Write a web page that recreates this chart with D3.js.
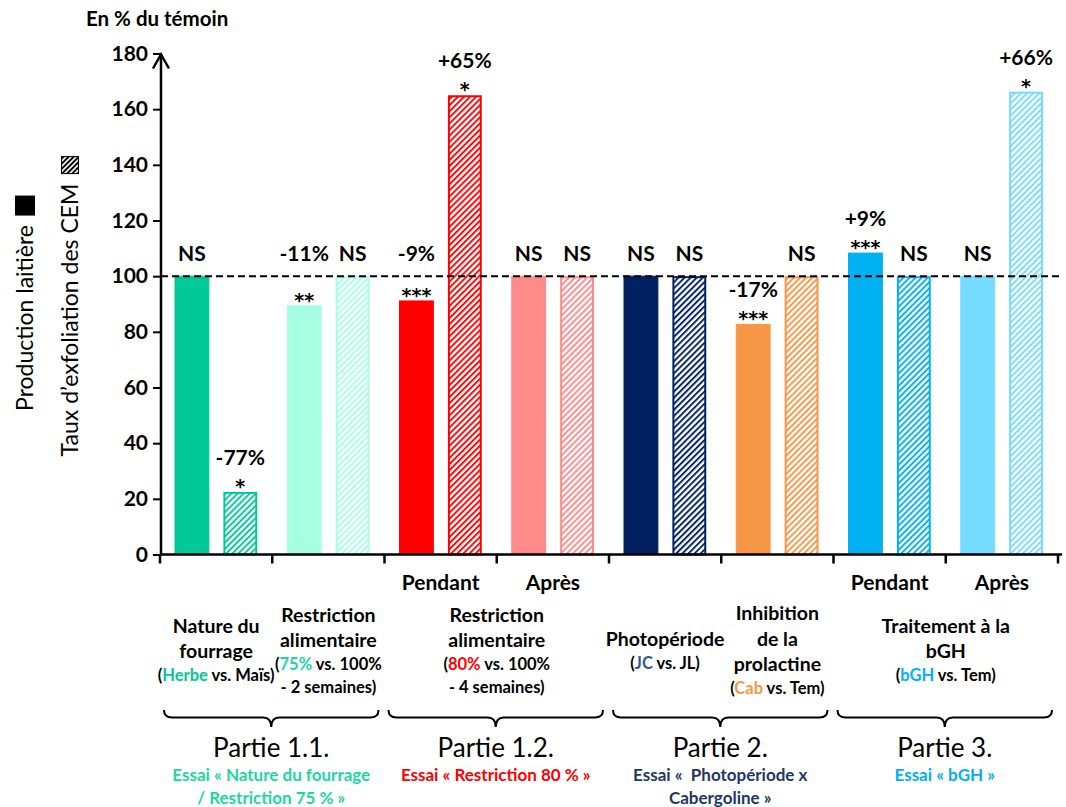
<!DOCTYPE html>
<html><head><meta charset="utf-8">
<script src="https://cdn.jsdelivr.net/npm/d3@7"></script>
<style>body{margin:0;background:#fff} svg{display:block} text{font-family:Lato,'Open Sans',sans-serif}</style>
</head><body><svg id="c" width="1066" height="807"></svg>
<script>
// ---------- data ----------
const categories = ["Nature du fourrage","Restriction 75 %","Restriction 80 % (pendant)","Restriction 80 % (après)","Photopériode","Inhibition prolactine","bGH (pendant)","bGH (après)"];
const tickLabels = ["","","Pendant","Après","","","Pendant","Après"];
const productionValues  = [100, 89.4, 91.1, 100, 100, 82.7, 108.3, 100];
const exfoliationValues = [22.5, 100, 165, 100, 100, 100, 100, 166.3];
const productionEffect  = ["NS","-11%","-9%","NS","NS","-17%","+9%","NS"];
const productionStars   = ["","**","***","","","***","***",""];
const exfoliationEffect = ["-77%","NS","+65%","NS","NS","NS","NS","+66%"];
const exfoliationStars  = ["*","","*","","","","","*"];
const barColors = ["#00C896","#A6FFE1","#FF0000","#FF8A8A","#002060","#F79646","#00B0F0","#75DBFF"];
const yTicks = [0,20,40,60,80,100,120,140,160,180];
const referenceLevel = 100;
const yTitle1 = "Production laitière";
const yTitle2 = "Taux d’exfoliation des CEM";
const unitTitle = "En % du témoin";
const descriptions = [
  {from:0,to:0,lines:[[["Nature du"]],[["fourrage"]],[["("],["Herbe","#00C896"],[" vs. Maïs)"]]]},
  {from:1,to:1,lines:[[["Restriction"]],[["alimentaire"]],[["("],["75%","#1ED5A4"],[" vs. 100%"]],[["- 2 semaines)"]]]},
  {from:2,to:3,lines:[[["Restriction"]],[["alimentaire"]],[["("],["80%","#FF0000"],[" vs. 100%"]],[["- 4 semaines)"]]]},
  {from:4,to:4,lines:[[["Photopériode"]],[["("],["JC","#2F5597"],[" vs. JL)"]]]},
  {from:5,to:5,lines:[[["Inhibition"]],[["de la"]],[["prolactine"]],[["("],["Cab","#F79646"],[" vs. Tem)"]]]},
  {from:6,to:7,lines:[[["Traitement à la"]],[["bGH"]],[["("],["bGH","#00B0F0"],[" vs. Tem)"]]]}
];
const groups = [[0,1],[2,3],[4,5],[6,7]];
const partTitles = ["Partie 1.1.","Partie 1.2.","Partie 2.","Partie 3."];
const essaiLines = [["Essai « Nature du fourrage","/ Restriction 75 % »"],["Essai « Restriction 80 % »"],["Essai «  Photopériode x","Cabergoline »"],["Essai « bGH »"]];
const essaiColors = ["#1ED5A4","#FF0000","#203864","#00B0F0"];

// ---------- layout ----------
const svg = d3.select("#c");
const X0 = 160, X1 = 1058, YB = 554.5, YT = 53.5;
const x = d3.scaleBand().domain(d3.range(categories.length)).range([X0, X1]).padding(0);
const inner = d3.scaleBand().domain(["prod","cem"]).range([15, x.bandwidth()-15]).paddingInner(0.3).paddingOuter(0);
const y = d3.scaleLinear().domain([0,180]).range([YB, YT]);

// hatch patterns
const defs = svg.append("defs");
function hatch(id, color, w){
  const p = defs.append("pattern").attr("id", id).attr("patternUnits","userSpaceOnUse")
    .attr("width", w).attr("height", w).attr("patternTransform","rotate(45)");
  p.append("rect").attr("width", w).attr("height", w).attr("fill","#fff");
  p.append("line").attr("x1",1).attr("y1",0).attr("x2",1).attr("y2",w).attr("stroke",color).attr("stroke-width",1.9);
}
barColors.forEach((c,i)=>hatch("h"+i, c, 4.3));
hatch("hleg", "#000", 3.6);

// bars
const g = svg.append("g");
g.selectAll("rect.prod").data(productionValues).join("rect").attr("class","prod")
  .attr("x",(d,i)=>x(i)+inner("prod")).attr("width",inner.bandwidth())
  .attr("y",d=>y(d)).attr("height",d=>y(0)-y(d))
  .attr("fill",(d,i)=>barColors[i]).attr("stroke",(d,i)=>barColors[i]).attr("stroke-width",1);
g.selectAll("rect.cem").data(exfoliationValues).join("rect").attr("class","cem")
  .attr("x",(d,i)=>x(i)+inner("cem")+1).attr("width",inner.bandwidth()-2)
  .attr("y",d=>y(d)+1).attr("height",d=>y(0)-y(d)-1)
  .attr("fill",(d,i)=>"url(#h"+i+")").attr("stroke",(d,i)=>barColors[i]).attr("stroke-width",2);

// reference dashed line
svg.append("line").attr("x1",X0+1).attr("x2",1062).attr("y1",y(referenceLevel)).attr("y2",y(referenceLevel))
  .attr("stroke","#000").attr("stroke-width",2).attr("stroke-dasharray","7,4");

// annotations
function annotate(values, effects, stars, key){
  values.forEach((v,i)=>{
    const cx = x(i)+inner(key)+inner.bandwidth()/2;
    const top = y(v);
    let pctY;
    if (stars[i]) {
      svg.append("text").attr("x",cx).attr("y",top+1).attr("text-anchor","middle")
        .style("font-family","'DejaVu Sans',sans-serif").attr("font-size",19).attr("font-weight",700).text(stars[i]);
      pctY = top - 27;
      if (v < referenceLevel && pctY - 14 < y(referenceLevel) + 4) pctY = y(referenceLevel) - 15;
    } else {
      pctY = Math.min(top, y(referenceLevel)) - 15;
    }
    svg.append("text").attr("x",cx).attr("y",pctY).attr("text-anchor","middle")
      .attr("font-size",21).attr("font-weight",700).text(effects[i]);
  });
}
annotate(productionValues, productionEffect, productionStars, "prod");
annotate(exfoliationValues, exfoliationEffect, exfoliationStars, "cem");

// y axis
const yAxis = svg.append("g").attr("transform",`translate(${X0+1},0)`)
  .call(d3.axisLeft(y).tickValues(yTicks).tickSize(8).tickPadding(5));
yAxis.select(".domain").remove();
yAxis.selectAll(".tick line").attr("stroke","#000").attr("stroke-width",2);
yAxis.selectAll(".tick text").attr("font-size",21).attr("font-weight",700).attr("fill","#000")
  .style("font-family","Lato,sans-serif");
svg.append("line").attr("x1",X0+1).attr("x2",X0+1).attr("y1",YB+1).attr("y2",YT+1).attr("stroke","#000").attr("stroke-width",2.5);
svg.append("path").attr("d",`M${X0-7},${YT+15} L${X0+1},${YT+1} L${X0+9},${YT+15}`)
  .attr("fill","none").attr("stroke","#000").attr("stroke-width",2.5);

// x axis
svg.append("line").attr("x1",X0).attr("x2",1062).attr("y1",YB).attr("y2",YB).attr("stroke","#000").attr("stroke-width",2.5);
const xAxis = svg.append("g").attr("transform",`translate(0,${YB})`)
  .call(d3.axisBottom(x).tickFormat((d,i)=>tickLabels[i]).tickSize(0).tickPadding(21));
xAxis.select(".domain").remove();
xAxis.selectAll(".tick text").attr("font-size",21).attr("font-weight",700).attr("fill","#000")
  .style("font-family","Lato,sans-serif");
// category separators
svg.selectAll("line.sep").data(d3.range(categories.length+1)).join("line").attr("class","sep")
  .attr("x1",i=>X0+i*x.step()).attr("x2",i=>X0+i*x.step()).attr("y1",YB).attr("y2",YB+9)
  .attr("stroke","#000").attr("stroke-width",2.5);

// unit title
svg.append("text").attr("x",86).attr("y",26).attr("font-size",20.5).attr("font-weight",700).text(unitTitle);

// y titles
function yTitle(cx, cy, label, legendFill, sq){
  const t = svg.append("text").attr("transform",`translate(${cx},${cy}) rotate(-90)`)
    .attr("text-anchor","middle").attr("dy","0.35em").attr("font-size",23).text(label);
  const len = t.node().getComputedTextLength();
  svg.append("rect").attr("x",cx-sq/2).attr("y",cy-len/2-10-sq).attr("width",sq).attr("height",sq)
    .attr("fill",legendFill).attr("stroke","#000").attr("stroke-width",1);
}
yTitle(25, 318, yTitle1, "#000", 19);
yTitle(70, 320, yTitle2, "url(#hleg)", 17);

// descriptions
descriptions.forEach(dsc=>{
  const cx = (x(dsc.from) + x(dsc.to) + x.bandwidth())/2;
  const isSub = l => /^[(\-]/.test(l[0][0]);
  const lh = dsc.lines.map(l=>isSub(l)?22.5:25.5);
  const total = d3.sum(lh);
  let yy = 650 - total/2;
  dsc.lines.forEach((l,k)=>{
    const t = svg.append("text").attr("x",cx).attr("y",yy + lh[k]/2).attr("dy","0.35em")
      .attr("text-anchor","middle").attr("font-weight",700).attr("font-size",isSub(l)?16.5:19.5);
    l.forEach(seg=>t.append("tspan").attr("fill",seg[1]||"#000").text(seg[0]));
    yy += lh[k];
  });
});

// braces and parts
groups.forEach((gr,k)=>{
  const x0 = x(gr[0]) + 4, x1 = x(gr[1]) + x.bandwidth() - 6, xc = (x0+x1)/2;
  const yt = 710, ym = 717.5, yp = 727;
  svg.append("path").attr("d",
    `M${x0},${yt} Q${x0},${ym} ${x0+8},${ym} L${xc-8},${ym} Q${xc},${ym} ${xc},${yp} Q${xc},${ym} ${xc+8},${ym} L${x1-8},${ym} Q${x1},${ym} ${x1},${yt}`)
    .attr("fill","none").attr("stroke","#000").attr("stroke-width",2);
  svg.append("text").attr("x",xc).attr("y",757).attr("text-anchor","middle").attr("font-size",26).text(partTitles[k]);
  essaiLines[k].forEach((ln,j)=>{
    svg.append("text").attr("x",xc).attr("y",781+j*23).attr("text-anchor","middle")
      .attr("font-size",17).attr("font-weight",700).attr("fill",essaiColors[k]).attr("xml:space","preserve").text(ln);
  });
});
</script></body></html>
